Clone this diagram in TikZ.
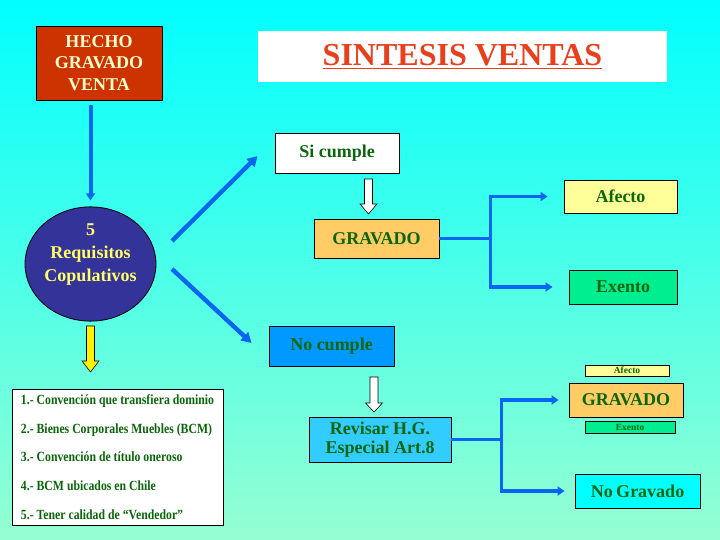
\documentclass[tikz,border=0pt]{standalone}
\usepackage{fontspec}
\setmainfont{Liberation Serif}
\newfontfamily\narrowfont[FakeStretch=0.84]{Liberation Serif}
\usetikzlibrary{arrows.meta, positioning, calc, shapes.geometric}
\definecolor{cbgtop}{HTML}{00FFFF}
\definecolor{cbgbot}{HTML}{96FFD2}
\definecolor{cline}{HTML}{0A66F0}
\definecolor{cbrick}{HTML}{CC3300}
\definecolor{ccream}{HTML}{FFFFCC}
\definecolor{cnavy}{HTML}{333399}
\definecolor{cyel}{HTML}{FFFF66}
\definecolor{ctitle}{HTML}{E8401C}
\definecolor{cgreen}{HTML}{0B660B}
\definecolor{corange}{HTML}{FFCC66}
\definecolor{clemon}{HTML}{FFFF99}
\definecolor{cmint}{HTML}{00EE90}
\definecolor{csky}{HTML}{0099FF}
\definecolor{caqua}{HTML}{33CCFF}
\tikzset{
  every picture/.style={line width=0.8pt},
  box/.style={draw=black, fill=#1, inner sep=0pt, align=center, text=cgreen, font=\bfseries\fontsize{18}{19.5}\selectfont},
  box/.default=white,
  tiny/.style={font=\bfseries\fontsize{9.5}{10}\selectfont},
  conn/.style={draw=cline, line width=3.6pt, -{Triangle[length=7pt, width=9pt]}},
  diag/.style={conn, line width=4.4pt, -{Triangle[length=10pt, width=11pt]}},
}
% block arrow: centre x, top, head start, tip, fill
\newcommand{\blockarrow}[5]{%
  \filldraw[fill=#5, draw=black, line width=0.6pt] (#1-4,#2) -- (#1+4,#2) -- (#1+4,#3) -- (#1+8.5,#3) -- (#1,#4) -- (#1-8.5,#3) -- (#1-4,#3) -- cycle;}

\begin{document}
\begin{tikzpicture}[x=1pt, y=-1pt]
  \useasboundingbox (0,0) rectangle (720,540);
  \shade[top color=cbgtop, bottom color=cbgbot] (0,0) rectangle (720,540);
  % left column
  \node[box=cbrick, text=ccream, minimum width=126, minimum height=74, font=\bfseries\fontsize{18}{21.5}\selectfont] (hecho) at (99,63) {HECHO\\GRAVADO\\VENTA};
  \node[ellipse, draw=black, fill=cnavy, text=cyel, inner sep=0pt, minimum width=131, minimum height=102, align=center, font=\bfseries\fontsize{18}{23}\selectfont] (req) at (90.5,264) {5\\Requisitos\\Copulativos\\\mbox{}};
  \node[box, minimum width=211, minimum height=136, align=left, font=\narrowfont\bfseries\fontsize{14}{28.7}\selectfont] (lista) at (117.5,457) {1.- Convención que transfiera dominio\\2.- Bienes Corporales Muebles (BCM)\\3.- Convención de título oneroso\\4.- BCM ubicados en Chile\\5.- Tener calidad de “Vendedor”};
  % title
  \node[fill=white, inner sep=0pt, minimum width=409, minimum height=51, text=ctitle, font=\bfseries\fontsize{32}{34}\selectfont] (titulo) at (462.5,56.5) {\underline{SINTESIS VENTAS}};
  % upper branch
  \node[box, minimum width=124, minimum height=40] (sicumple) at (337,153) {Si cumple};
  \node[box=corange, minimum width=125, minimum height=39] (gravA) at (376.5,238.5) {GRAVADO};
  \node[box=clemon, minimum width=113, minimum height=33] (afectoA) at (620.5,196.5) {Afecto};
  \node[box=cmint, minimum width=108, minimum height=34] (exentoA) at (623,287) {Exento};
  % lower branch
  \node[box=csky, minimum width=125, minimum height=40] (nocumple) at (331.5,346) {No cumple};
  \node[box=caqua, minimum width=142, minimum height=45] (revisar) at (380,439.5) {Revisar H.G.\\Especial Art.8};
  \node[box=clemon, tiny, minimum width=84, minimum height=11] (afectoB) at (627,370.5) {Afecto};
  \node[box=corange, minimum width=114, minimum height=34] (gravB) at (626,400) {GRAVADO};
  \node[box=cmint, tiny, minimum width=90, minimum height=12] (exentoB) at (630,427) {Exento};
  \node[box=cbgtop, minimum width=125, minimum height=34] (nograv) at (637.5,491) {No\hspace{-1pt} Gravado};
  % connectors
  \draw[conn, line width=4pt, shorten <=5pt, shorten >=6pt] (req.north |- hecho.south) -- (req.north);
  \draw[diag] ($(req.center)+(81.5,-23)$) -- ($(sicumple.west)+(-17,3)$);
  \draw[diag] ($(req.center)+(81.5,5)$) -- ($(nocumple.west)+(-17,-3)$);
  \draw[conn, shorten >=16pt] (gravA.east) -- ++(51,0) |- (afectoA.west);
  \draw[conn, shorten >=16pt] (gravA.east) -- ++(51,0) |- (exentoA.west);
  \draw[conn, shorten >=10pt] (revisar.east) -- ++(50,0) |- (gravB.west);
  \draw[conn, shorten >=10pt] (revisar.east) -- ++(50,0) |- (nograv.west);
  % block arrows
  \blockarrow{368.5}{179}{204}{214}{white}
  \blockarrow{374}{377}{403}{412}{white}
  \blockarrow{90.5}{326}{361}{372}{yellow}
\end{tikzpicture}
\end{document}
